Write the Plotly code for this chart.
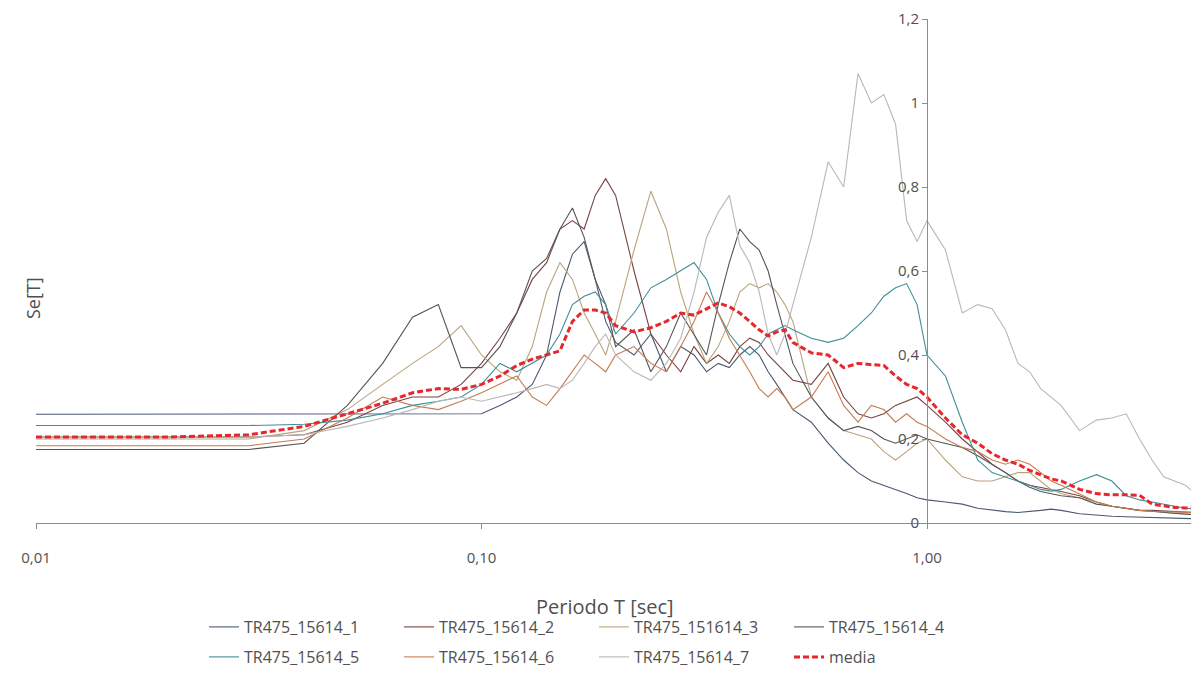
import plotly.graph_objects as go

periods = [0.01, 0.02, 0.03, 0.04, 0.05, 0.06, 0.07, 0.08, 0.09, 0.10,
           0.11, 0.12, 0.13, 0.14, 0.15, 0.16, 0.17, 0.18, 0.19, 0.20,
           0.22, 0.24, 0.26, 0.28, 0.30, 0.32, 0.34, 0.36, 0.38, 0.40,
           0.42, 0.44, 0.46, 0.48, 0.50, 0.55, 0.60, 0.65, 0.70, 0.75,
           0.80, 0.85, 0.90, 0.95, 1.00, 1.10, 1.20, 1.30, 1.40, 1.50,
           1.60, 1.70, 1.80, 1.90, 2.00, 2.20, 2.40, 2.60, 2.80, 3.00,
           3.20, 3.40, 3.60, 3.80, 4.00]

s1 = [0.259, 0.259, 0.259, 0.259, 0.259, 0.259, 0.259, 0.259, 0.259, 0.26,
      0.28, 0.30, 0.33, 0.40, 0.55, 0.64, 0.67, 0.58, 0.48, 0.43,
      0.40, 0.45, 0.36, 0.42, 0.40, 0.36, 0.38, 0.37, 0.40, 0.42,
      0.40, 0.36, 0.33, 0.30, 0.27, 0.24, 0.19, 0.15, 0.12, 0.10,
      0.09, 0.08, 0.07, 0.06, 0.055, 0.05, 0.045, 0.035, 0.03, 0.027,
      0.025, 0.027, 0.03, 0.033, 0.03, 0.022, 0.018, 0.016, 0.015, 0.014,
      0.013, 0.012, 0.011, 0.011, 0.01]

s2 = [0.205, 0.205, 0.205, 0.21, 0.24, 0.28, 0.30, 0.30, 0.33, 0.38,
      0.44, 0.50, 0.58, 0.62, 0.70, 0.72, 0.70, 0.78, 0.82, 0.78,
      0.60, 0.45, 0.40, 0.36, 0.42, 0.38, 0.40, 0.38, 0.42, 0.44,
      0.43, 0.40, 0.38, 0.36, 0.34, 0.33, 0.38, 0.30, 0.26, 0.25,
      0.26, 0.28, 0.29, 0.30, 0.28, 0.24, 0.20, 0.17, 0.14, 0.12,
      0.10, 0.09, 0.085, 0.08, 0.075, 0.065, 0.05, 0.04, 0.035, 0.03,
      0.03, 0.028, 0.027, 0.026, 0.025]

s3 = [0.20, 0.20, 0.20, 0.22, 0.27, 0.33, 0.38, 0.42, 0.47, 0.40,
      0.36, 0.34, 0.42, 0.55, 0.62, 0.58, 0.50, 0.45, 0.40, 0.48,
      0.65, 0.79, 0.70, 0.55, 0.45, 0.38, 0.42, 0.48, 0.55, 0.57,
      0.56, 0.57, 0.55, 0.52, 0.48, 0.30, 0.25, 0.22, 0.21, 0.20,
      0.17, 0.15, 0.17, 0.19, 0.20, 0.15, 0.11, 0.10, 0.10, 0.11,
      0.12, 0.12, 0.10, 0.08, 0.07, 0.06, 0.05, 0.04, 0.035, 0.03,
      0.028, 0.025, 0.023, 0.022, 0.02]

s4 = [0.175, 0.175, 0.175, 0.19, 0.28, 0.38, 0.49, 0.52, 0.37, 0.37,
      0.42, 0.50, 0.60, 0.63, 0.70, 0.75, 0.68, 0.58, 0.52, 0.42,
      0.46, 0.36, 0.42, 0.50, 0.45, 0.40, 0.52, 0.62, 0.70, 0.67,
      0.65, 0.60, 0.52, 0.45, 0.38, 0.30, 0.25, 0.22, 0.23, 0.22,
      0.20, 0.19, 0.20, 0.21, 0.20, 0.19, 0.18, 0.16, 0.14, 0.12,
      0.10, 0.085, 0.075, 0.07, 0.065, 0.06, 0.045, 0.04, 0.035, 0.03,
      0.028, 0.025, 0.023, 0.021, 0.02]

s5 = [0.232, 0.232, 0.232, 0.235, 0.245, 0.26, 0.28, 0.29, 0.30, 0.33,
      0.38, 0.36, 0.38, 0.40, 0.45, 0.52, 0.54, 0.55, 0.52, 0.45,
      0.50, 0.56, 0.58, 0.60, 0.62, 0.58, 0.50, 0.45, 0.42, 0.40,
      0.42, 0.45, 0.46, 0.47, 0.46, 0.44, 0.43, 0.44, 0.47, 0.50,
      0.54, 0.56, 0.57, 0.52, 0.40, 0.35, 0.24, 0.15, 0.12, 0.11,
      0.10, 0.09, 0.08, 0.076, 0.08, 0.10, 0.115, 0.10, 0.065, 0.055,
      0.05, 0.045, 0.04, 0.035, 0.033]

s6 = [0.184, 0.184, 0.184, 0.20, 0.25, 0.30, 0.28, 0.27, 0.29, 0.31,
      0.33, 0.35, 0.30, 0.28, 0.32, 0.36, 0.40, 0.38, 0.36, 0.40,
      0.42, 0.38, 0.36, 0.42, 0.48, 0.55, 0.50, 0.44, 0.40, 0.36,
      0.32, 0.30, 0.32, 0.30, 0.27, 0.30, 0.36, 0.28, 0.24, 0.28,
      0.27, 0.24, 0.26, 0.24, 0.23, 0.20, 0.18, 0.17, 0.15, 0.14,
      0.15, 0.14, 0.12, 0.10, 0.09, 0.07, 0.05, 0.04, 0.035, 0.03,
      0.028, 0.027, 0.026, 0.025, 0.025]

s7 = [0.205, 0.205, 0.205, 0.21, 0.23, 0.25, 0.27, 0.29, 0.30, 0.29,
      0.30, 0.31, 0.32, 0.33, 0.32, 0.34, 0.38, 0.42, 0.45, 0.40,
      0.36, 0.34, 0.38, 0.44, 0.55, 0.68, 0.74, 0.78, 0.66, 0.62,
      0.55, 0.45, 0.40, 0.45, 0.52, 0.68, 0.86, 0.80, 1.07, 1.00,
      1.02, 0.95, 0.72, 0.67, 0.72, 0.65, 0.50, 0.52, 0.51, 0.46,
      0.38, 0.36, 0.32, 0.30, 0.28, 0.22, 0.245, 0.25, 0.26, 0.20,
      0.15, 0.11, 0.10, 0.09, 0.07]

media = [0.205, 0.205, 0.21, 0.23, 0.26, 0.285, 0.31, 0.32, 0.318, 0.33,
         0.35, 0.375, 0.39, 0.40, 0.41, 0.48, 0.507, 0.507, 0.50, 0.47,
         0.455, 0.465, 0.48, 0.50, 0.495, 0.51, 0.524, 0.515, 0.50, 0.48,
         0.46, 0.445, 0.455, 0.46, 0.43, 0.405, 0.40, 0.37, 0.38, 0.377,
         0.375, 0.35, 0.33, 0.32, 0.30, 0.25, 0.21, 0.19, 0.165, 0.15,
         0.14, 0.125, 0.115, 0.105, 0.10, 0.08, 0.07, 0.067, 0.067, 0.066,
         0.045, 0.04, 0.037, 0.036, 0.035]

names = ["TR475_15614_1", "TR475_15614_2", "TR475_151614_3", "TR475_15614_4",
         "TR475_15614_5", "TR475_15614_6", "TR475_15614_7"]
series = [s1, s2, s3, s4, s5, s6, s7]
colors = ["#4a5870", "#7a4242", "#b9a47e", "#555555",
          "#3f8e98", "#c67c52", "#b8b8b8"]

x_tickvals = [0.01, 0.1, 1.0]
x_ticktext = ["0,01", "0,10", "1,00"]
y_tickvals = [0, 0.2, 0.4, 0.6, 0.8, 1.0, 1.2]
y_ticktext = ["0", "0,2", "0,4", "0,6", "0,8", "1", "1,2"]

FONT = "Open Sans"
TXT = "#505050"

fig = go.Figure()
for i, (nm, ys, c) in enumerate(zip(names, series, colors)):
    fig.add_trace(go.Scatter(
        x=periods, y=ys, name=nm, mode="lines",
        line=dict(color=c, width=1.1),
        legend="legend" if i < 4 else "legend2",
    ))
fig.add_trace(go.Scatter(
    x=periods, y=media, name="media", mode="lines",
    line=dict(color="#e8262e", width=3, dash="6px,3px"),
    legend="legend2",
))

# page body has an 8px margin; figure sized so the page fits the window
OFF = 8
W, H = 1199 - 2 * OFF, 675 - 2 * OFF


def sx(px):
    return px - OFF


L, R, T, B = sx(36), 0, sx(19), H - sx(523)
pw = W - L - R
ph = H - T - B
px_per_dec = (927 - 36) / 2.0
x_right = -2 + (W + OFF - 36) / px_per_dec


def paper_x(screen_x):
    return (sx(screen_x) - L) / pw


def paper_y(screen_y):
    return (T + ph - sx(screen_y)) / ph


fig.update_layout(
    width=W, height=H,
    margin=dict(l=L, r=R, t=T, b=B, autoexpand=False),
    paper_bgcolor="white", plot_bgcolor="white",
    font=dict(family=FONT, size=13, color=TXT),
    showlegend=True,
    xaxis=dict(
        type="log", range=[-2, x_right], automargin=False,
        tickvals=x_tickvals, ticktext=x_ticktext,
        showgrid=False, zeroline=False,
        showline=True, linecolor="#8c8c8c", linewidth=1,
        ticks="outside", ticklen=5, tickcolor="#8c8c8c",
        ticklabelstandoff=16,
        tickfont=dict(size=15, color=TXT),
    ),
    yaxis=dict(
        range=[0, 1.2], anchor="free", automargin=False,
        position=paper_x(927),
        tickvals=y_tickvals, ticktext=y_ticktext,
        showgrid=False, zeroline=False,
        showline=True, linecolor="#8c8c8c", linewidth=1,
        ticks="outside", ticklen=5, tickcolor="#8c8c8c",
        tickfont=dict(size=15, color=TXT),
    ),
    legend=dict(
        orientation="h", x=paper_x(204), xanchor="left",
        y=paper_y(627), yanchor="middle",
        entrywidth=150, entrywidthmode="pixels",
        font=dict(size=16, color=TXT), bgcolor="rgba(0,0,0,0)",
        itemwidth=30,
    ),
    legend2=dict(
        orientation="h", x=paper_x(204), xanchor="left",
        y=paper_y(657), yanchor="middle",
        entrywidth=150, entrywidthmode="pixels",
        font=dict(size=16, color=TXT), bgcolor="rgba(0,0,0,0)",
        itemwidth=30,
    ),
    annotations=[
        dict(text="Periodo T [sec]", xref="paper", yref="paper",
             x=paper_x(605), y=paper_y(606),
             showarrow=False, font=dict(size=20, color=TXT),
             xanchor="center", yanchor="middle"),
        dict(text="Se[T]", xref="paper", yref="paper",
             x=paper_x(33), y=paper_y(298), textangle=-90,
             showarrow=False, font=dict(size=18, color=TXT),
             xanchor="center", yanchor="middle"),
    ],
)

fig.write_html("out.html")
